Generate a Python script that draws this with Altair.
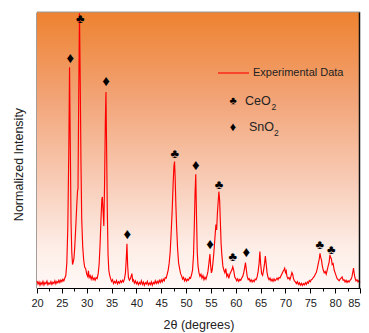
import altair as alt
import pandas as pd

# ---- data ----
two_theta = [
    20.0, 20.2, 20.4, 20.6, 20.8, 21.0, 21.2, 21.4, 21.6, 21.8,
    22.0, 22.2, 22.4, 22.6, 22.8, 23.0, 23.2, 23.4, 23.6, 23.8,
    24.0, 24.2, 24.4, 24.6, 24.8, 25.0, 25.2, 25.4, 25.6, 25.8,
    26.0, 26.2, 26.4, 26.55, 26.7, 26.85, 27.0, 27.15, 27.3, 27.45,
    27.6, 27.8, 28.0, 28.15, 28.25, 28.4, 28.55, 28.7, 28.85, 29.0,
    29.2, 29.4, 29.6, 29.8, 30.0, 30.2, 30.35, 30.5, 30.7, 30.9,
    31.1, 31.3, 31.5, 31.7, 31.9, 32.1, 32.3, 32.5, 32.7, 32.9,
    33.05, 33.15, 33.3, 33.45, 33.6, 33.75, 33.88, 34.0, 34.15, 34.3,
    34.45, 34.6, 34.8, 35.0, 35.2, 35.4, 35.6, 35.8, 36.0, 36.2,
    36.4, 36.6, 36.8, 37.0, 37.2, 37.4, 37.6, 37.8, 37.95, 38.1,
    38.25, 38.4, 38.6, 38.8, 39.0, 39.1, 39.25, 39.4, 39.6, 39.8,
    40.0, 40.2, 40.4, 40.6, 40.8, 41.0, 41.2, 41.4, 41.6, 41.8,
    42.0, 42.2, 42.4, 42.6, 42.8, 43.0, 43.2, 43.4, 43.6, 43.8,
    44.0, 44.2, 44.4, 44.6, 44.8, 45.0, 45.2, 45.4, 45.6, 45.8,
    46.0, 46.2, 46.4, 46.6, 46.8, 47.0, 47.2, 47.4, 47.55, 47.68,
    47.8, 47.95, 48.1, 48.3, 48.5, 48.7, 48.9, 49.1, 49.3, 49.5,
    49.7, 49.9, 50.1, 50.3, 50.5, 50.7, 50.9, 51.1, 51.3, 51.5,
    51.65, 51.8, 51.95, 52.1, 52.25, 52.4, 52.6, 52.8, 53.0, 53.2,
    53.4, 53.6, 53.8, 54.0, 54.2, 54.4, 54.6, 54.8, 54.95, 55.1,
    55.25, 55.4, 55.6, 55.8, 56.0, 56.15, 56.3, 56.45, 56.6, 56.75,
    56.9, 57.05, 57.2, 57.4, 57.6, 57.8, 58.0, 58.2, 58.4, 58.6,
    58.8, 59.0, 59.2, 59.4, 59.6, 59.8, 60.0, 60.2, 60.4, 60.6,
    60.8, 61.0, 61.2, 61.4, 61.6, 61.8, 61.95, 62.1, 62.3, 62.5,
    62.7, 62.9, 63.1, 63.3, 63.5, 63.7, 63.9, 64.1, 64.3, 64.5,
    64.7, 64.85, 65.0, 65.2, 65.4, 65.6, 65.8, 65.95, 66.1, 66.3,
    66.5, 66.7, 66.9, 67.1, 67.3, 67.5, 67.7, 67.9, 68.1, 68.3,
    68.5, 68.7, 68.9, 69.1, 69.3, 69.5, 69.7, 69.85, 70.0, 70.15,
    70.3, 70.5, 70.7, 70.9, 71.1, 71.3, 71.45, 71.6, 71.8, 72.0,
    72.2, 72.4, 72.6, 72.8, 73.0, 73.2, 73.4, 73.6, 73.8, 74.0,
    74.2, 74.4, 74.6, 74.8, 75.0, 75.2, 75.4, 75.6, 75.8, 76.0,
    76.2, 76.4, 76.6, 76.8, 76.95, 77.1, 77.25, 77.4, 77.6, 77.8,
    78.0, 78.2, 78.4, 78.6, 78.8, 78.95, 79.1, 79.25, 79.4, 79.6,
    79.8, 80.0, 80.2, 80.4, 80.6, 80.8, 81.0, 81.2, 81.4, 81.6,
    81.8, 82.0, 82.2, 82.4, 82.6, 82.8, 83.0, 83.2, 83.4, 83.55,
    83.7, 83.85, 84.0, 84.2, 84.4, 84.6, 84.8, 85.0,
]
intensity = [
    2.6, 1.4, 2.2, 1.0, 2.0, 1.3, 2.4, 1.1, 2.0, 1.5,
    2.5, 1.2, 1.9, 1.4, 2.3, 1.3, 2.1, 1.6, 2.6, 1.5,
    2.4, 1.9, 2.8, 2.0, 2.9, 2.3, 3.2, 2.6, 3.6, 4.5,
    9.0, 22.0, 50.0, 80.0, 52.0, 24.0, 13.0, 8.5, 9.5, 11.0,
    15.0, 22.0, 30.0, 35.0, 36.0, 70.0, 99.5, 75.0, 45.0, 25.0,
    15.0, 10.0, 7.5, 7.0, 5.0, 4.2, 6.2, 3.8, 4.5, 3.2,
    4.3, 3.0, 3.6, 2.8, 3.8, 3.4, 5.0, 8.5, 16.0, 26.0,
    32.0, 33.0, 28.0, 22.5, 38.0, 60.0, 71.0, 52.0, 28.0, 12.0,
    6.5, 4.8, 3.5, 2.4, 3.0, 1.6, 2.4, 1.8, 2.7, 1.5,
    2.3, 1.7, 2.6, 2.0, 2.8, 2.2, 3.3, 5.5, 10.0, 16.0,
    8.0, 3.8, 2.8, 3.4, 4.6, 5.2, 2.6, 3.0, 1.8, 2.6,
    1.5, 2.2, 1.2, 2.0, 1.4, 2.6, 1.3, 2.1, 1.0, 1.9,
    1.4, 2.4, 1.1, 1.8, 1.2, 2.2, 1.0, 2.0, 1.5, 2.6,
    1.6, 2.4, 1.7, 2.8, 2.0, 3.0, 2.2, 3.2, 2.6, 3.8,
    3.6, 5.0, 6.5, 9.0, 13.0, 20.0, 28.0, 38.0, 44.0, 45.8,
    40.0, 30.0, 22.0, 14.0, 9.0, 7.0, 5.2, 4.4, 3.2, 3.8,
    2.6, 3.4, 2.5, 3.2, 2.8, 3.8, 3.5, 4.8, 6.5, 12.0,
    22.0, 34.0, 41.2, 26.0, 13.0, 8.0, 5.5, 4.2, 5.0, 3.6,
    4.5, 3.0, 3.9, 3.2, 4.4, 6.0, 9.0, 12.3, 8.0, 5.5,
    6.5, 9.0, 13.0, 18.0, 23.0, 21.0, 27.0, 31.0, 34.9, 32.0,
    24.0, 16.0, 12.0, 8.0, 6.5, 5.5, 7.0, 4.2, 5.0, 3.5,
    5.0, 5.8, 6.5, 7.7, 6.2, 4.0, 3.4, 2.6, 3.3, 2.4,
    3.1, 2.8, 3.6, 4.2, 5.5, 7.5, 9.2, 7.0, 4.2, 3.0,
    3.4, 2.4, 3.0, 2.2, 2.8, 2.3, 3.2, 3.0, 4.0, 6.0,
    9.0, 13.2, 9.0, 5.2, 4.6, 6.5, 9.0, 11.6, 9.0, 5.5,
    3.8, 3.0, 3.6, 2.6, 3.2, 2.4, 3.3, 2.6, 3.0, 3.6,
    3.0, 3.8, 3.6, 4.4, 5.2, 6.0, 6.6, 7.2, 5.6, 6.2,
    4.2, 3.4, 3.8, 3.0, 4.2, 5.6, 5.0, 3.5, 2.6, 2.2,
    1.6, 2.3, 1.3, 1.9, 1.0, 1.7, 0.9, 1.6, 1.1, 1.9,
    1.3, 2.2, 1.7, 2.7, 2.3, 3.0, 3.2, 3.8, 4.2, 5.0,
    5.6, 7.0, 8.8, 10.5, 12.6, 11.0, 10.2, 8.2, 6.5, 5.5,
    6.0, 5.0, 6.5, 8.0, 9.5, 12.0, 11.0, 10.5, 8.5, 8.8,
    6.5, 5.5, 4.4, 3.4, 3.0, 2.6, 3.2, 3.6, 4.0, 2.8,
    3.0, 2.2, 2.8, 2.0, 2.6, 2.2, 2.8, 3.2, 4.2, 5.8,
    7.2, 5.0, 3.6, 2.6, 3.0, 2.2, 2.7, 2.0,
]

ceo2_theta = [28.7, 47.7, 56.65, 59.4, 76.9, 79.2]
ceo2_mark = [97.5, 48.6, 37.3, 11.1, 15.4, 13.8]
sno2_theta = [26.7, 33.9, 38.2, 51.95, 54.85, 62.1]
sno2_mark = [83.4, 75.1, 19.6, 44.6, 15.8, 12.9]

major_ticks = [20, 25, 30, 35, 40, 45, 50, 55, 60, 65, 70, 75, 80, 85]
minor_ticks = [22.5, 27.5, 32.5, 37.5, 42.5, 47.5, 52.5, 57.5, 62.5, 67.5, 72.5, 77.5, 82.5]

x_title = "2θ (degrees)"
y_title = "Normalized Intensity"
legend_line = "Experimental Data"

# ---- chart ----
W, H = 323, 276
FONT = "Liberation Sans"

df = pd.DataFrame({"tt": two_theta, "I": intensity})
ce_df = pd.DataFrame({"tt": ceo2_theta, "I": ceo2_mark})
sn_df = pd.DataFrame({"tt": sno2_theta, "I": sno2_mark})
one = pd.DataFrame({"k": [0]})

xscale = alt.Scale(domain=[20, 85], nice=False, zero=False)
yscale = alt.Scale(domain=[0, 100], nice=False, zero=False)

grad = alt.LinearGradient(
    gradient="linear",
    x1=0, x2=0, y1=0, y2=1,
    stops=[
        alt.GradientStop(color="#EE822F", offset=0),
        alt.GradientStop(color="#F2A274", offset=0.3),
        alt.GradientStop(color="#F8CDB8", offset=0.62),
        alt.GradientStop(color="#FDEDE6", offset=0.85),
        alt.GradientStop(color="#FFF8F6", offset=1),
    ],
)

bg = alt.Chart(one).mark_rect(color=grad).encode(
    x=alt.value(0), x2=alt.value(W), y=alt.value(0), y2=alt.value(H)
)

line = alt.Chart(df).mark_line(color="#FF0000", strokeWidth=1.15, interpolate="linear").encode(
    x=alt.X("tt:Q", scale=xscale,
            axis=alt.Axis(values=major_ticks, title=x_title, format="d",
                          tickSize=5, tickColor="black", domainColor="black",
                          domainWidth=1.2, labelPadding=4, titlePadding=10,
                          labelFlush=False, labelOverlap=False,
                          labelAlign=alt.ExprRef(expr="datum.value == 85 ? 'right' : 'center'"),
                          labelFontSize=11, titleFontSize=12.5, grid=False)),
    y=alt.Y("I:Q", scale=yscale,
            axis=alt.Axis(title=y_title, labels=False, ticks=False, grid=False,
                          domainColor="#4a3c34", domainWidth=2,
                          titlePadding=12, titleFontSize=12.5, titleY=152)),
)

ce_marks = alt.Chart(ce_df).mark_text(text="♣", fontSize=13, color="black", font=FONT,
                                      baseline="middle").encode(
    x=alt.X("tt:Q", scale=xscale, axis=None),
    y=alt.Y("I:Q", scale=yscale),
)
sn_marks = alt.Chart(sn_df).mark_text(text="♦", fontSize=15, color="black", font=FONT,
                                      baseline="middle").encode(
    x=alt.X("tt:Q", scale=xscale, axis=None),
    y=alt.Y("I:Q", scale=yscale),
)

# legend (inside the plot area)
leg_line = alt.Chart(one).mark_rule(color="#FF0000", strokeWidth=1.1).encode(
    x=alt.value(181), x2=alt.value(212), y=alt.value(61)
)
leg_txt1 = alt.Chart(one).mark_text(text=legend_line, fontSize=11, font=FONT, color="#222",
                                    align="left", baseline="middle").encode(
    x=alt.value(216), y=alt.value(61))
leg_club = alt.Chart(one).mark_text(text="♣", fontSize=11, font=FONT, color="black",
                                    baseline="middle").encode(x=alt.value(196), y=alt.value(89))
leg_ce = alt.Chart(one).mark_text(text="CeO", fontSize=12.5, font=FONT, color="#222",
                                  align="left", baseline="middle").encode(x=alt.value(208), y=alt.value(89))
leg_ce2 = alt.Chart(one).mark_text(text="2", fontSize=8.5, font=FONT, color="#222",
                                   align="left", baseline="middle").encode(x=alt.value(234.5), y=alt.value(95))
leg_dia = alt.Chart(one).mark_text(text="♦", fontSize=12.5, font=FONT, color="black",
                                   baseline="middle").encode(x=alt.value(196), y=alt.value(115))
leg_sn = alt.Chart(one).mark_text(text="SnO", fontSize=12.5, font=FONT, color="#222",
                                  align="left", baseline="middle").encode(x=alt.value(212), y=alt.value(115))
leg_sn2 = alt.Chart(one).mark_text(text="2", fontSize=8.5, font=FONT, color="#222",
                                   align="left", baseline="middle").encode(x=alt.value(237), y=alt.value(121))

# frame
right_border = alt.Chart(one).mark_rule(color="#111", strokeWidth=1.5).encode(
    x=alt.value(W - 0.5), y=alt.value(0), y2=alt.value(H))
top_border = alt.Chart(one).mark_rule(color="#9a9a9a", strokeWidth=1).encode(
    x=alt.value(0), x2=alt.value(W), y=alt.value(0))

minor = alt.Chart(df).mark_point(opacity=0).encode(
    x=alt.X("tt:Q", scale=xscale,
            axis=alt.Axis(orient="bottom", values=minor_ticks, labels=False, domain=False,
                          tickSize=3, tickColor="black", title=None, grid=False)),
    y=alt.Y("I:Q", scale=yscale),
)

chart = alt.layer(
    bg, line, ce_marks, sn_marks,
    leg_line, leg_txt1, leg_club, leg_ce, leg_ce2, leg_dia, leg_sn, leg_sn2,
    right_border, top_border, minor,
).resolve_axis(x="independent").properties(
    width=W, height=H,
    autosize=alt.AutoSizeParams(type="none"),
    padding={"left": 29, "top": 4, "right": 1, "bottom": 45},
    background="white",
).configure_view(stroke=None).configure_axis(
    labelFont=FONT, titleFont=FONT, labelColor="#222", titleColor="#222",
    titleFontWeight="normal",
)

chart.save("out.html", embed_options={"renderer": "svg", "actions": False})
